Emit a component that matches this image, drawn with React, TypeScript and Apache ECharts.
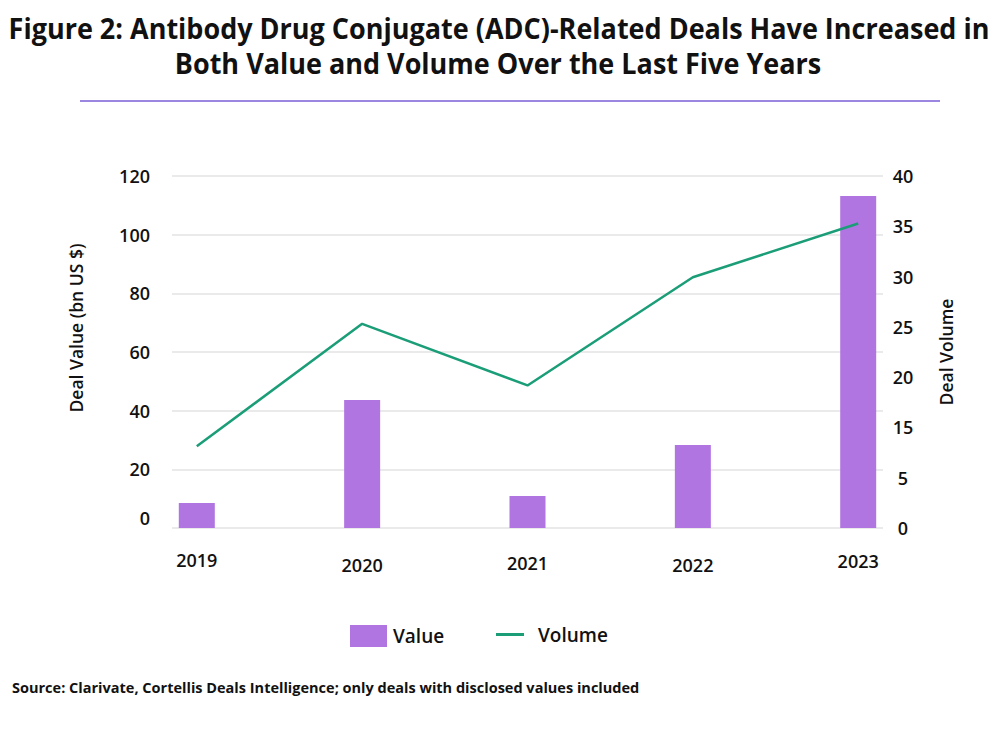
import React, { useEffect, useRef } from "react";
import * as echarts from "echarts";

const years = ["2019", "2020", "2021", "2022", "2023"];
const dealValue = [8.5, 43.6, 10.9, 28.3, 113.2];
const dealVolume = [9.3, 23.2, 16.2, 28.5, 34.6];
const leftTicks = [0, 20, 40, 60, 80, 100, 120];
const rightTickLabels = ["0", "5", "15", "20", "25", "30", "35", "40"];
const yearLabelDrop = [0, 5, 3, 5, 1];

const titleLines = [
  "Figure 2: Antibody Drug Conjugate (ADC)-Related Deals Have Increased in",
  "Both Value and Volume Over the Last Five Years",
];
const sourceText =
  "Source: Clarivate, Cortellis Deals Intelligence; only deals with disclosed values included";

const labelFont = "'Open Sans', 'Lato', sans-serif";

function measure(text: string, font: string): number {
  const c = document.createElement("canvas");
  const ctx = c.getContext("2d");
  if (!ctx) return 0;
  ctx.font = font;
  return ctx.measureText(text).width;
}

export default function App() {
  const ref = useRef<HTMLDivElement>(null);
  useEffect(() => {
    document.body.style.margin = "0";
    if (!ref.current) return;
    const chart = echarts.init(ref.current, undefined, { renderer: "svg" });
    const rightMax = 40;
    const rightStep = rightMax / (rightTickLabels.length - 1);
    const rightPositions = rightTickLabels.map((_, i) => i * rightStep);
    const rich: any = {};
    yearLabelDrop.forEach((d, i) => {
      rich["y" + i] = {
        fontFamily: labelFont,
        fontSize: 18,
        fontWeight: 600,
        color: "#111",
        padding: [d, 0, 0, 0],
      };
    });

    const titleFont = "bold 28.5px 'Open Sans'";
    const w1 = measure(titleLines[0], titleFont) || 1000;
    const titleScale = 982 / w1;
    const srcFont = "bold 14px 'Open Sans'";
    const ws = measure(sourceText, srcFont) || 680;
    const srcScale = 628 / ws;

    chart.setOption({
      animation: false,
      backgroundColor: "#ffffff",
      graphic: [
        {
          type: "text",
          x: 499,
          y: 28,
          scaleX: titleScale,
          style: {
            text: titleLines[0],
            font: titleFont,
            fill: "#111",
            align: "center",
            verticalAlign: "middle",
          },
        },
        {
          type: "text",
          x: 498,
          y: 63,
          scaleX: titleScale,
          style: {
            text: titleLines[1],
            font: titleFont,
            fill: "#111",
            align: "center",
            verticalAlign: "middle",
          },
        },
        {
          type: "line",
          shape: { x1: 80, y1: 101, x2: 940, y2: 101 },
          style: { stroke: "#9b87e1", lineWidth: 2 },
        },
        {
          type: "text",
          x: 12,
          y: 688,
          scaleX: srcScale,
          style: {
            text: sourceText,
            font: srcFont,
            fill: "#111",
            align: "left",
            verticalAlign: "middle",
          },
        },
      ],
      legend: [
        {
          data: [{ name: "Value", icon: "rect" }],
          left: 345,
          top: 620,
          itemWidth: 37,
          itemHeight: 22,
          textStyle: {
            fontFamily: labelFont,
            fontSize: 19,
            fontWeight: 600,
            color: "#111",
            padding: [0, 0, 0, 1],
          },
        },
        {
          data: [{ name: "Volume", icon: "path://M0 0H28V3H0Z" }],
          left: 491,
          top: 620,
          itemWidth: 28,
          itemHeight: 22,
          textStyle: {
            fontFamily: labelFont,
            fontSize: 19,
            fontWeight: 600,
            color: "#111",
            padding: [0, 0, 0, 9],
          },
        },
      ],
      grid: { left: 172, right: 117, top: 176, bottom: 204 },
      xAxis: {
        type: "value",
        min: -0.15,
        max: years.length - 0.85,
        axisLine: { show: false },
        axisTick: { show: false },
        splitLine: { show: false },
        axisLabel: {
          customValues: years.map((_, i) => i),
          margin: 23,
          formatter: (v: number) => {
            const i = Math.round(v);
            return "{y" + i + "|" + years[i] + "}";
          },
          rich,
        },
      },
      yAxis: [
        {
          type: "value",
          min: 0,
          max: 120,
          interval: 20,
          name: "Deal Value (bn US $)",
          nameLocation: "middle",
          nameRotate: 90,
          nameGap: 87,
          nameTextStyle: {
            fontFamily: labelFont,
            fontSize: 17.5,
            fontWeight: 600,
            color: "#111",
            padding: [0, 0, 0, 48],
          },
          axisLine: { show: false },
          axisTick: { show: false },
          splitLine: { lineStyle: { color: "#e3e3e3", width: 1.5 } },
          axisLabel: {
            customValues: leftTicks,
            margin: 22,
            formatter: (v: number) => (v === 0 ? "{z|0}" : String(v)),
            fontFamily: labelFont,
            fontSize: 18,
            fontWeight: 600,
            color: "#111",
            rich: {
              z: {
                fontFamily: labelFont,
                fontSize: 18,
                fontWeight: 600,
                color: "#111",
                padding: [0, 0, 20, 0],
              },
            },
          },
        },
        {
          type: "value",
          min: 0,
          max: rightMax,
          position: "right",
          name: "Deal Volume",
          nameLocation: "middle",
          nameRotate: 90,
          nameGap: 54,
          nameTextStyle: {
            fontFamily: labelFont,
            fontSize: 17.5,
            fontWeight: 600,
            color: "#111",
          },
          axisLine: { show: false },
          axisTick: { show: false },
          splitLine: { show: false },
          axisLabel: {
            customValues: rightPositions,
            margin: 20,
            align: "center",
            formatter: (v: number) => rightTickLabels[Math.round(v / rightStep)],
            fontFamily: labelFont,
            fontSize: 18,
            fontWeight: 600,
            color: "#111",
          },
        },
      ],
      series: [
        {
          name: "Value",
          type: "bar",
          yAxisIndex: 0,
          barWidth: 36,
          itemStyle: { color: "#b075e0" },
          data: dealValue.map((v, i) => [i, v]),
        },
        {
          name: "Volume",
          type: "line",
          yAxisIndex: 1,
          symbol: "none",
          lineStyle: { color: "#1b9e78", width: 2.5 },
          itemStyle: { color: "#1b9e78" },
          data: dealVolume.map((v, i) => [i, v]),
        },
      ],
    });
    return () => chart.dispose();
  }, []);
  return (
    <div
      ref={ref}
      style={{ position: "fixed", left: 0, top: 0, width: 1000, height: 732 }}
    />
  );
}
